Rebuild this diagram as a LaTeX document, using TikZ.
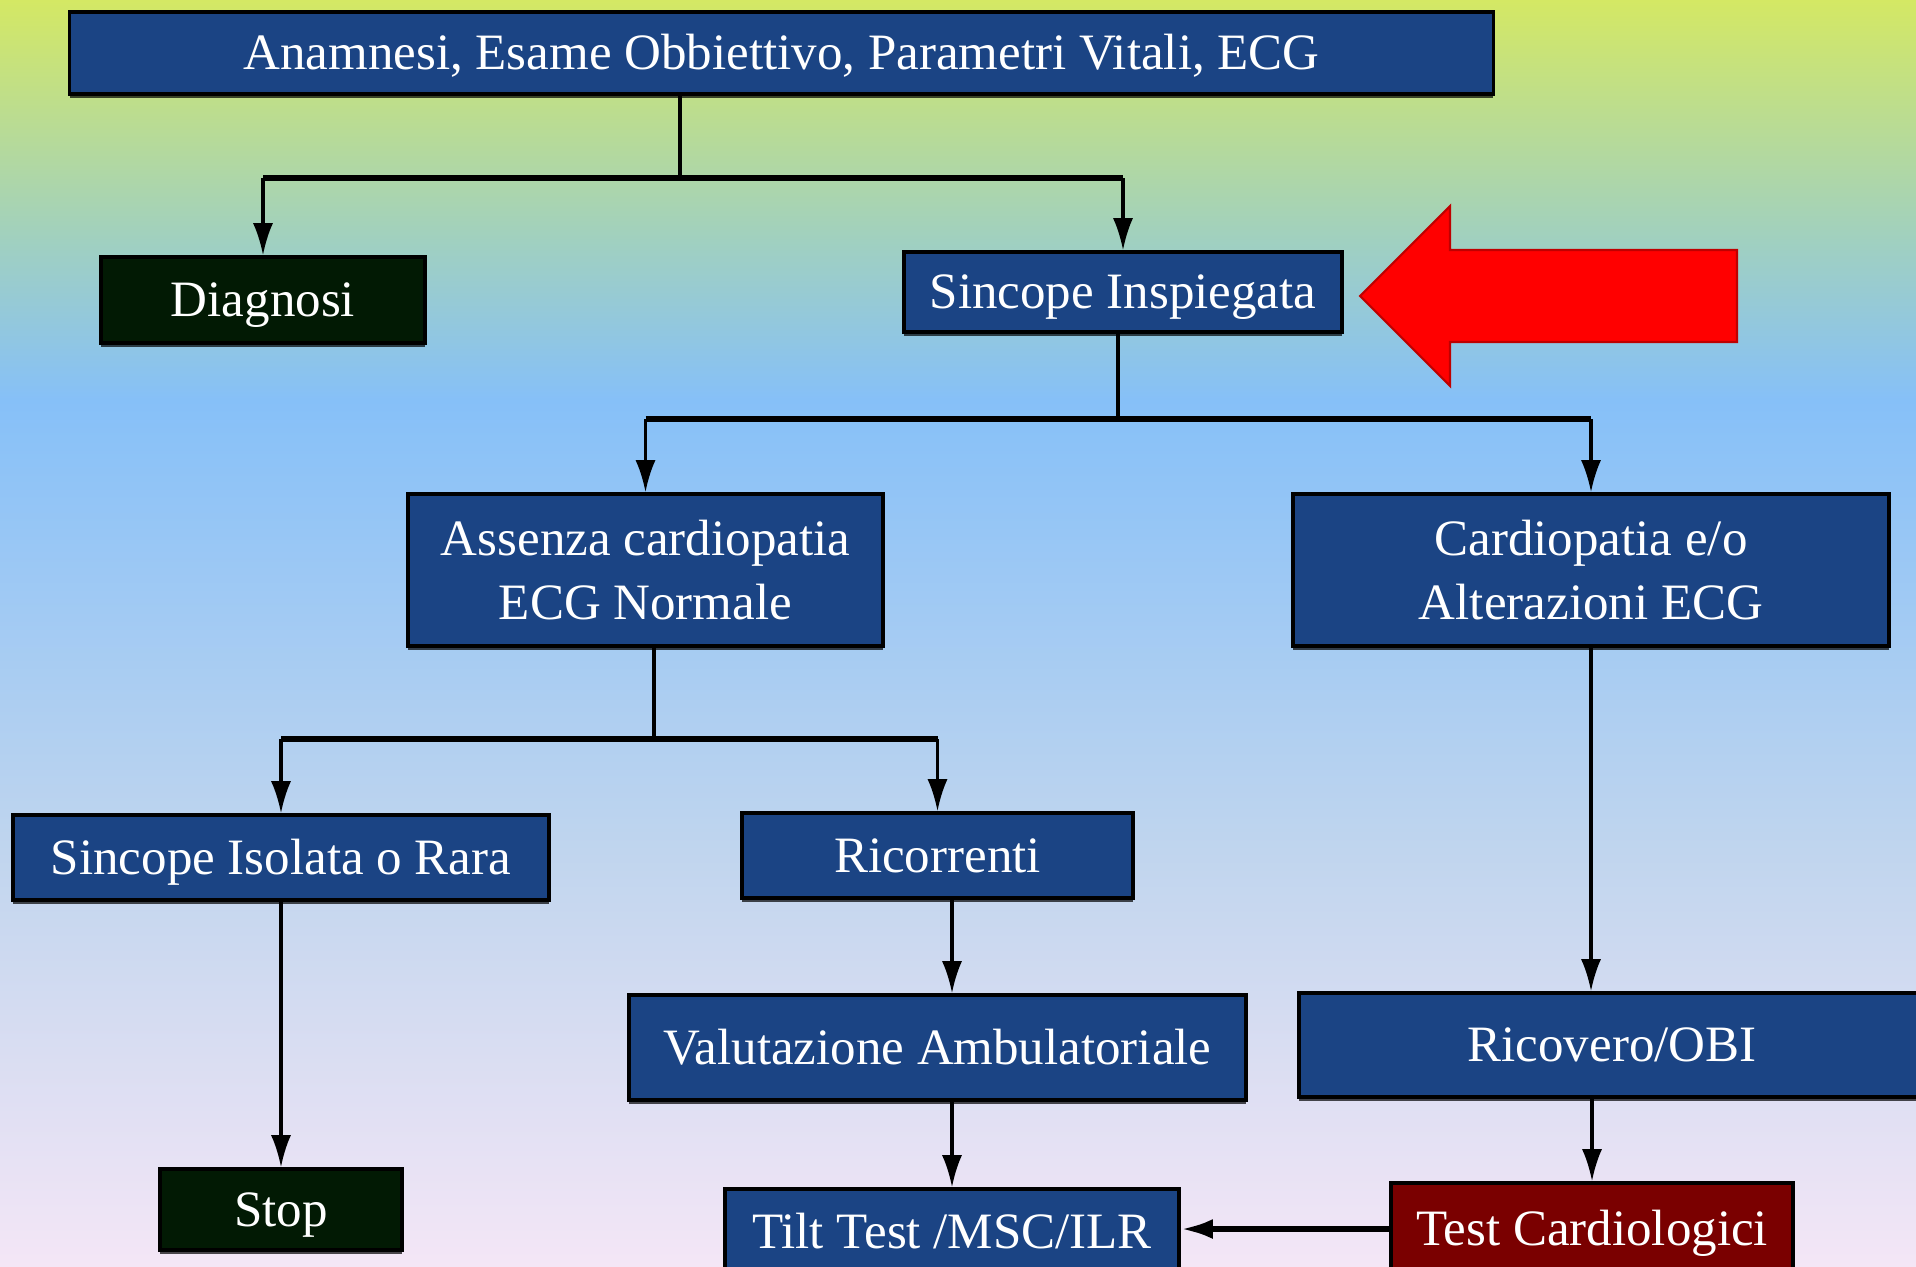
\documentclass[tikz,border=0pt]{standalone}
\usepackage{fontspec}
\setmainfont{Liberation Serif}
\usepackage{tikz}
\usetikzlibrary{arrows.meta,shadows}
\definecolor{boxblue}{HTML}{1B4484}
\definecolor{darkbox}{HTML}{021A04}
\definecolor{redbox}{HTML}{7A0000}
\definecolor{bgA}{HTML}{D4E864}
\definecolor{bgB}{HTML}{A0D0C0}
\definecolor{bgC}{HTML}{86C0F8}
\definecolor{bgD}{HTML}{C0D5EE}
\definecolor{bgE}{HTML}{F4E6F6}
\tikzset{>={Latex[length=3.2mm,width=2mm]},
  box/.style={draw=black,line width=1pt,fill=boxblue,text=white,align=center,inner sep=0pt,
    font=\fontsize{14.5}{18}\selectfont,
    drop shadow={shadow xshift=0pt,shadow yshift=-1.2pt,fill=black,opacity=0.7}},
  onebox/.style={box,text height=9.6pt,text depth=0pt},
  link/.style={line width=0.9pt,->},
  bar/.style={line width=1.6pt}}

\begin{document}
\begin{tikzpicture}[x=0.01cm,y=-0.01cm]
    \useasboundingbox (0,0) rectangle (1916,1266);
    \foreach \ya/\yb/\ca/\cb in {0/241/bgA/bgB,240/401/bgB/bgC,400/851/bgC/bgD,850/1266/bgD/bgE}
      \shade[top color=\ca,bottom color=\cb] (0,\ya) rectangle (1916,\yb);

    \node[onebox,minimum width=14.23cm,minimum height=0.82cm] (exam) at (781.5,53) {Anamnesi, Esame Obbiettivo, Parametri Vitali, ECG};
    \node[onebox,fill=darkbox,minimum width=3.24cm,minimum height=0.86cm] (diag) at (263,300) {Diagnosi};
    \node[onebox,minimum width=4.38cm,minimum height=0.8cm] (unexpl) at (1123,292) {Sincope Inspiegata};
    \node[box,minimum width=4.75cm,minimum height=1.52cm] (nocard) at (645.5,570) {Assenza cardiopatia\\ECG Normale};
    \node[box,minimum width=5.96cm,minimum height=1.52cm] (card) at (1591,570) {Cardiopatia e/o\\Alterazioni ECG};
    \node[onebox,minimum width=5.36cm,minimum height=0.85cm] (rare) at (281,857.5) {Sincope Isolata o Rara};
    \node[onebox,minimum width=3.91cm,minimum height=0.85cm] (recur) at (937.5,855.5) {Ricorrenti};
    \node[onebox,minimum width=6.17cm,minimum height=1.05cm] (outpt) at (937.5,1047.5) {Valutazione Ambulatoriale};
    \node[onebox,minimum width=6.26cm,minimum height=1.04cm] (obi) at (1612,1045) {Ricovero/OBI};
    \node[onebox,fill=darkbox,minimum width=2.42cm,minimum height=0.81cm] (stop) at (281,1209.5) {Stop};
    \node[onebox,minimum width=4.54cm,minimum height=0.86cm] (tilt) at (952,1232) {Tilt Test /MSC/ILR};
    \node[onebox,fill=redbox,minimum width=4.02cm,minimum height=0.92cm] (cardtest) at (1592,1229) {Test Cardiologici};

    \coordinate (j1) at (680,178);
    \coordinate (j2) at (1118,419);
    \coordinate (j3) at (654,739);

    \draw[line width=0.9pt] (exam.south -| j1) -- (j1);
    \draw[bar] (diag.north |- j1) -- (unexpl.north |- j1);
    \draw[link] (diag.north |- j1) -- (diag.north);
    \draw[link] (unexpl.north |- j1) -- (unexpl.north);

    \draw[line width=0.9pt] (unexpl.south -| j2) -- (j2);
    \draw[bar] (nocard.north |- j2) -- (card.north |- j2);
    \draw[link] (nocard.north |- j2) -- (nocard.north);
    \draw[link] (card.north |- j2) -- (card.north);

    \draw[line width=0.9pt] (nocard.south -| j3) -- (j3);
    \draw[bar] (rare.north |- j3) -- (recur.north |- j3);
    \draw[link] (rare.north |- j3) -- (rare.north);
    \draw[link] (recur.north |- j3) -- (recur.north);

    \draw[link] (card.south) -- (card.south |- obi.north);
    \draw[link] (rare) -- (stop);
    \draw[link] (recur.south -| tilt) -- (outpt.north -| tilt);
    \draw[link] (outpt.south -| tilt) -- (tilt.north);
    \draw[link] (obi.south -| cardtest) -- (cardtest.north);
    \draw[link,line width=1.6pt] (cardtest.west) -- (cardtest.west -| tilt.east);

    \filldraw[red,draw=red!75!black,line width=0.6pt] (1360,296) -- (1450,206) -- (1450,250) -- (1737,250)
      -- (1737,342) -- (1450,342) -- (1450,386) -- cycle;
\end{tikzpicture}
\end{document}
